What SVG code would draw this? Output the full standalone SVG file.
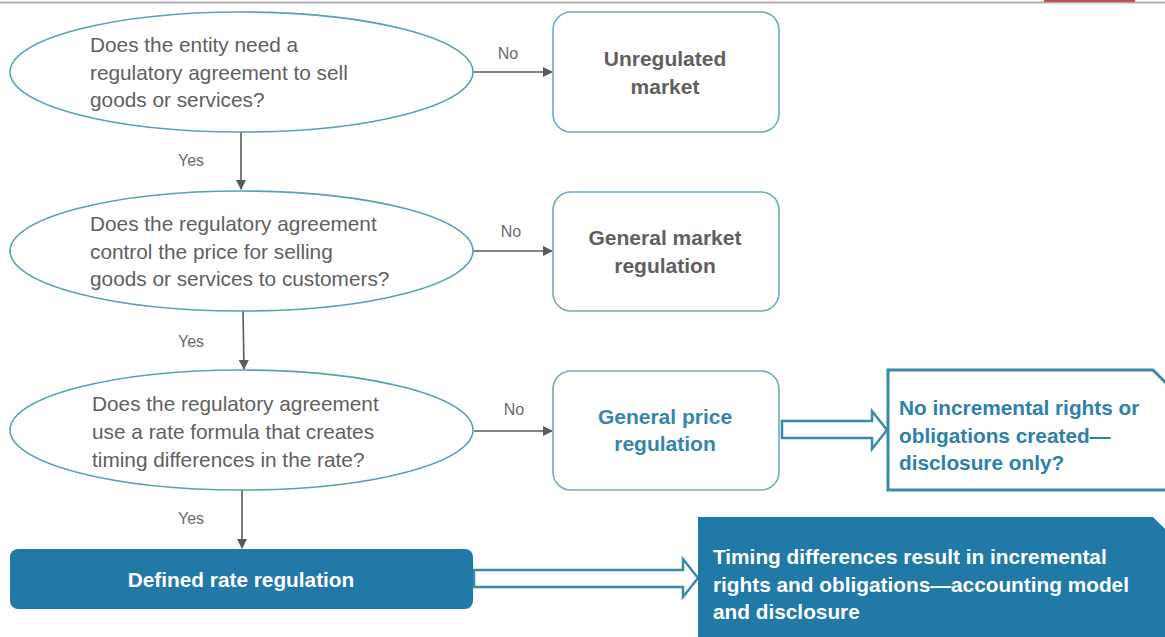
<svg xmlns="http://www.w3.org/2000/svg" width="1165" height="637" viewBox="0 0 1165 637">
<style>
.q{fill:#fff;stroke:#5b9fb5;stroke-width:1.6}
.qt{font-family:"Liberation Sans",Arial,sans-serif;font-size:20.8px;fill:#5f5f5f}
.bx{fill:#fff;stroke:#6fa9c0;stroke-width:1.6}
.bt{font-family:"Liberation Sans",Arial,sans-serif;font-size:21px;font-weight:bold;text-anchor:middle;fill:#5f5f5f}
.blue{fill:#3784ad}
.wt{font-family:"Liberation Sans",Arial,sans-serif;font-size:20.8px;font-weight:bold;fill:#fff}
.nt{font-family:"Liberation Sans",Arial,sans-serif;font-size:20.8px;font-weight:bold;fill:#2f80ab}
.lab{font-family:"Liberation Sans",Arial,sans-serif;font-size:16px;fill:#6a6a6a}
.ln{stroke:#5a5a5a;stroke-width:1.6;fill:none}
.ba{fill:#fff;stroke:#3b88a8;stroke-width:2.5}
</style>
<defs>
<marker id="ah" markerWidth="10" markerHeight="10" refX="9" refY="5" orient="auto" markerUnits="userSpaceOnUse">
<path d="M0,0 L10,5 L0,10 z" fill="#5a5a5a"/>
</marker>
</defs>
<rect x="0" y="0" width="1165" height="637" fill="#fff"/>
<line x1="0" y1="2.5" x2="1165" y2="2.5" stroke="#b0b0b0" stroke-width="2"/>
<rect x="1044" y="0" width="91" height="2" fill="#c0504d"/>

<g id="connectors">
<line class="ln" x1="241" y1="132" x2="241" y2="189" marker-end="url(#ah)"/>
<line class="ln" x1="243" y1="311" x2="244" y2="369" marker-end="url(#ah)"/>
<line class="ln" x1="242" y1="490" x2="242" y2="548" marker-end="url(#ah)"/>
<line class="ln" x1="473" y1="72" x2="552" y2="72" marker-end="url(#ah)"/>
<line class="ln" x1="473" y1="251" x2="552" y2="251" marker-end="url(#ah)"/>
<line class="ln" x1="474" y1="431" x2="552" y2="431" marker-end="url(#ah)"/>
<text class="lab" x="508" y="59" text-anchor="middle">No</text>
<text class="lab" x="511" y="237" text-anchor="middle">No</text>
<text class="lab" x="514" y="415" text-anchor="middle">No</text>
<text class="lab" x="191" y="166" text-anchor="middle">Yes</text>
<text class="lab" x="191" y="347" text-anchor="middle">Yes</text>
<text class="lab" x="191" y="524" text-anchor="middle">Yes</text>
<path class="ba" d="M782,421 L872,421 L872,411 L887,430 L872,449 L872,438 L782,438 z"/>
<path class="ba" d="M474,570 L683,570 L683,559 L698,578 L683,597 L683,587 L474,587 z"/>
</g>

<g id="q1">
<ellipse class="q" cx="241.5" cy="72" rx="231.5" ry="60"/>
<text class="qt" x="90" y="52">Does the entity  need a</text>
<text class="qt" x="90" y="80">regulatory  agreement to sell</text>
<text class="qt" x="90" y="107">goods or services?</text>
</g>
<g id="q2">
<ellipse class="q" cx="241.5" cy="251" rx="231.5" ry="60"/>
<text class="qt" x="90" y="231">Does the regulatory  agreement</text>
<text class="qt" x="90" y="259">control the price for selling</text>
<text class="qt" x="90" y="286">goods or services to customers?</text>
</g>
<g id="q3">
<ellipse class="q" cx="241.5" cy="430" rx="231.5" ry="60"/>
<text class="qt" x="92" y="411">Does the regulatory  agreement</text>
<text class="qt" x="92" y="439">use a rate formula that creates</text>
<text class="qt" x="92" y="467">timing differences in the rate?</text>
</g>

<g id="unregulated">
<rect class="bx" x="553" y="12" width="226" height="120" rx="18"/>
<text class="bt" x="665" y="66">Unregulated</text>
<text class="bt" x="665" y="94">market</text>
</g>
<g id="general-market">
<rect class="bx" x="553" y="192" width="226" height="119" rx="18"/>
<text class="bt" x="665" y="245">General market</text>
<text class="bt" x="665" y="273">regulation</text>
</g>
<g id="general-price">
<rect class="bx" x="553" y="371" width="226" height="119" rx="18"/>
<text class="bt blue" x="665" y="424">General price</text>
<text class="bt blue" x="665" y="451">regulation</text>
</g>
<g id="no-incremental">
<path d="M888,370 L1153,370 L1167,384 L1167,490 L888,490 z" fill="#fff" stroke="#3b88a8" stroke-width="3"/>
<text class="nt" x="899" y="415">No incremental rights or</text>
<text class="nt" x="899" y="443">obligations created—</text>
<text class="nt" x="899" y="470">disclosure only?</text>
</g>
<g id="defined-rate">
<rect x="10" y="549" width="463" height="60" rx="8" fill="#2279a8"/>
<text class="wt" x="241" y="587" text-anchor="middle">Defined rate regulation</text>
</g>
<g id="timing">
<path d="M698,517 L1153,517 L1167,531 L1167,640 L698,640 z" fill="#2179a8"/>
<text class="wt" x="713" y="564">Timing differences result in incremental</text>
<text class="wt" x="713" y="592">rights and obligations—accounting model</text>
<text class="wt" x="713" y="619">and disclosure</text>
</g>
</svg>
